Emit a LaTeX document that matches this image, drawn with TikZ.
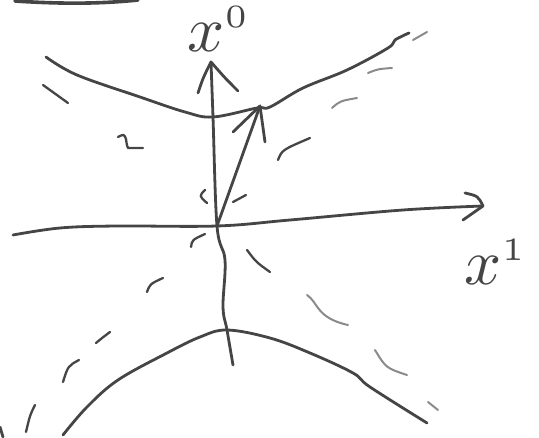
\documentclass[tikz,border=0pt]{standalone}
\usepackage{graphicx}
\definecolor{inkc}{HTML}{454545}
\definecolor{faintc}{HTML}{8A8A8A}
\begin{document}
\begin{tikzpicture}[x=1pt,y=-1pt,
  ink/.style={draw=inkc, line width=2.8pt, line cap=round, line join=round},
  thinink/.style={draw=inkc, line width=2.3pt, line cap=round, line join=round},
  faint/.style={draw=faintc, line width=2pt, line cap=round, line join=round},
  lbl/.style={text=inkc, inner sep=0pt}]
\useasboundingbox (0,0) rectangle (539,438);
% named points
\coordinate (O) at (217,226);
\coordinate (T0) at (211,62);
\coordinate (T1) at (483,206);
\coordinate (V) at (260,106);
% top stroke and left edge mark
\draw[ink, line width=3.6pt] (15,1) .. controls (60,4) and (100,4) .. (138,0);
\draw[ink] (0,427) -- (3,437);
% vertical axis x^0
\draw[ink] plot[smooth, tension=0.6] coordinates {(233,365) (227,330) (223,307) (225,260) (O) (213,117) (T0)};
\draw[ink] (198,93) .. controls (203,78) .. (T0) .. controls (225,78) .. (238,91);
% horizontal axis x^1
\draw[ink] plot[smooth, tension=0.6] coordinates {(13,235) (60,228) (117,226) (O) (290,220) (403,210) (T1)};
\draw[ink] (465,193) .. controls (478,196) .. (T1) -- (463,220);
% vector
\draw[ink] (O) -- (V);
\draw[ink] (233,132) -- (V) -- (265,142);
% upper hyperbola
\draw[ink] plot[smooth, tension=0.6] coordinates {(46,57) (77,75) (140,97) (185,112) (213,117) (257,108) (270,107) (303,88) (347,70) (388,48) (395,40) (409,33)};
% lower hyperbola
\draw[ink] plot[smooth, tension=0.6] coordinates {(63,435) (87,407) (118,380) (167,353) (200,337) (227,330) (270,338) (310,353) (353,373) (370,387) (427,423)};
% light cone dashes, upper left
\draw[thinink] (43,85) -- (68,103);
\draw[thinink] (118,137) .. controls (124,134) .. (126,139) .. controls (127,146) .. (128,148) -- (143,148);
\draw[thinink] (205,190) .. controls (199,196) .. (207,203);
% near origin, right
\draw[thinink] (233,202) -- (246,195);
% lower left
\draw[thinink] (191,247) .. controls (192,240) .. (205,234);
\draw[thinink] (147,292) .. controls (150,284) .. (163,278);
\draw[thinink] (96,343) .. controls (102,338) .. (110,332);
\draw[thinink] (63,382) .. controls (68,366) .. (79,360);
\draw[thinink] (26,432) .. controls (30,415) .. (35,405);
% lower right
\draw[thinink] (247,250) .. controls (256,262) .. (270,272);
\draw[faint] (307,295) .. controls (318,302) and (316,318) .. (348,325);
\draw[faint] (375,350) .. controls (386,368) .. (407,375);
\draw[faint] (428,402) -- (438,410);
% upper right
\draw[thinink] (278,160) .. controls (282,150) .. (310,138);
\draw[faint] (332,108) .. controls (340,101) .. (357,98);
\draw[faint] (368,73) .. controls (378,69) .. (392,68);
\draw[faint] (413,40) -- (427,32);
% labels
\node[lbl] (L0) at (219,29) {\scalebox{6.5}{$x^{\scriptscriptstyle 0}$}};
\node[lbl] (L1) at (496,262) {\scalebox{6.5}{$x^{\scriptscriptstyle 1}$}};
\end{tikzpicture}
\end{document}
